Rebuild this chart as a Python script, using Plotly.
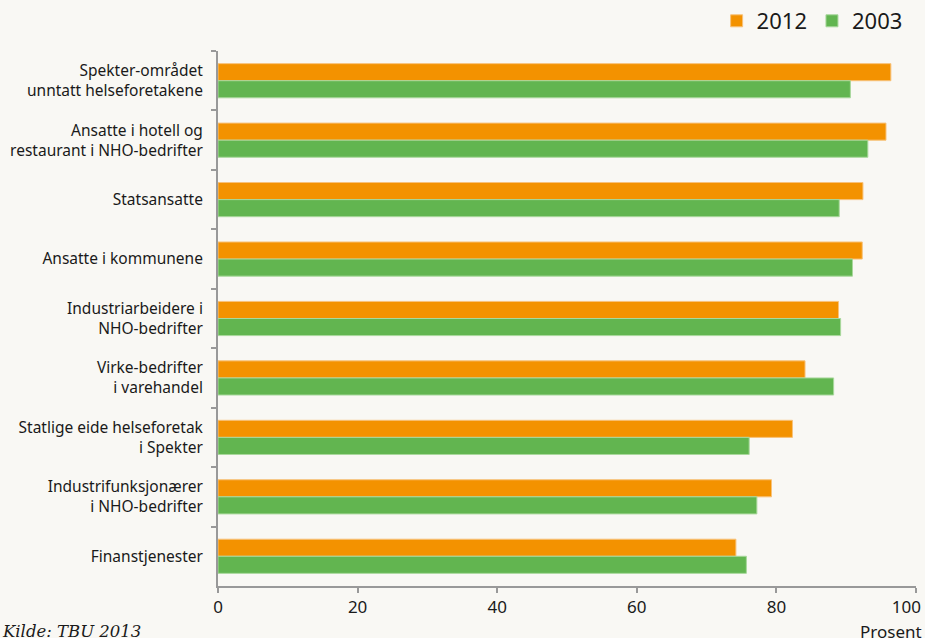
import plotly.graph_objects as go

categories = [
    "Spekter-området<br>unntatt helseforetakene",
    "Ansatte i hotell og<br>restaurant i NHO-bedrifter",
    "Statsansatte",
    "Ansatte i kommunene",
    "Industriarbeidere i<br>NHO-bedrifter",
    "Virke-bedrifter<br>i varehandel",
    "Statlige eide helseforetak<br>i Spekter",
    "Industrifunksjonærer<br>i NHO-bedrifter",
    "Finanstjenester",
]
values_2012 = [96.4, 95.7, 92.4, 92.3, 88.9, 84.1, 82.3, 79.3, 74.2]
values_2003 = [90.6, 93.1, 89.0, 90.9, 89.2, 88.2, 76.1, 77.2, 75.7]
x_ticks = [0, 20, 40, 60, 80, 100]
x_tick_labels = ["0", "20", "40", "60", "80", "100\u2007\u2007"]

ORANGE = "#F39200"
GREEN = "#62B550"
BG = "#F9F8F4"
AXIS = "#999999"
FONT = "Noto Sans"

fig = go.Figure()
fig.add_trace(go.Bar(
    y=categories, x=values_2012, name="2012", orientation="h",
    marker=dict(color=ORANGE, line=dict(color="#F8C27A", width=1)),
))
fig.add_trace(go.Bar(
    y=categories, x=values_2003, name="2003", orientation="h",
    marker=dict(color=GREEN, line=dict(color="#A9D89C", width=1)),
))

fig.update_layout(
    width=925, height=638,
    paper_bgcolor=BG, plot_bgcolor=BG,
    barmode="group", bargap=0.425, bargroupgap=0,
    margin=dict(l=218, r=9, t=51, b=52, autoexpand=False),
    font=dict(family=FONT, color="#1a1a1a", size=14),
    legend=dict(
        orientation="h", x=0.988, xanchor="right", y=1.0, yanchor="top",
        yref="container", font=dict(size=22, family=FONT),
        bgcolor="rgba(0,0,0,0)", itemwidth=30, traceorder="normal",
    ),
    showlegend=True,
)

fig.update_xaxes(
    range=[0, 100], tickvals=x_ticks, ticktext=x_tick_labels,
    showgrid=False, zeroline=False, automargin=False,
    showline=True, linecolor=AXIS, linewidth=2,
    ticks="outside", ticklen=5, tickcolor=AXIS, tickwidth=2,
    ticklabeloverflow="allow",
    tickfont=dict(size=17, family=FONT), fixedrange=True,
)
fig.update_yaxes(
    autorange="reversed", showgrid=False, zeroline=False, automargin=False,
    showline=True, linecolor=AXIS, linewidth=2,
    ticks="outside", ticklen=5, tickcolor=AXIS, tickwidth=2,
    tickson="boundaries", ticklabelstandoff=10,
    tickfont=dict(size=15.5, family=FONT, color="#1a1a1a"),
)

fig.add_annotation(
    text="Prosent", xref="paper", yref="paper", x=1.0, y=-0.06, xshift=8,
    xanchor="right", yanchor="top", showarrow=False,
    font=dict(size=17, family=FONT, color="#1a1a1a"),
)
fig.add_annotation(
    text="<i>Kilde: TBU 2013</i>", xref="paper", yref="paper", x=-0.31, y=-0.063,
    xanchor="left", yanchor="top", showarrow=False, xshift=-2,
    font=dict(size=16.5, family="DejaVu Serif", color="#1a1a1a"),
)

fig.write_html(
    "out.html",
    config={"displayModeBar": False},
    post_script="document.body.style.margin='0';document.body.style.background='%s';" % BG,
)
